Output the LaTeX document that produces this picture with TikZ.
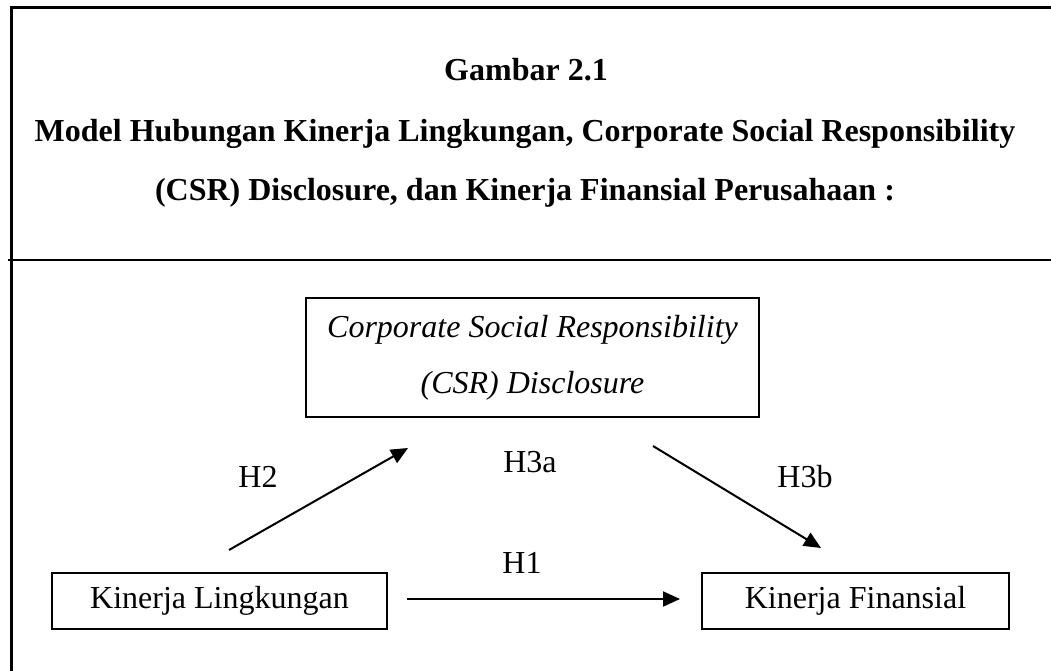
\documentclass[tikz,border=0pt]{standalone}
\usepackage{fontspec}
\setmainfont{Liberation Serif}
\usetikzlibrary{arrows.meta}
\begin{document}
\begin{tikzpicture}[x=1pt,y=-1pt,
  frame/.style={line width=3pt},
  varbox/.style={draw,line width=2pt,inner sep=0pt,align=center},
  link/.style={line width=2pt,-{Triangle[length=17pt,width=15pt]}},
  hyp/.style={font=\fontsize{32}{38}\selectfont},
  titletext/.style={font=\fontsize{32}{38}\selectfont\bfseries}]
\useasboundingbox (0,0) rectangle (1051,671);
% outer frame and divider under the caption
\draw[frame] (11,680) -- (11,7.5) -- (1060,7.5);
\draw[line width=2.2pt] (8,260) -- (1060,260);
% caption
\node[titletext] (t1) at (526,70) {Gambar 2.1};
\node[titletext] (t2) at (525,134) {Model Hubungan Kinerja Lingkungan, Corporate Social Responsibility};
\node[titletext] (t3) at (525,193) {(CSR) Disclosure, dan Kinerja Finansial Perusahaan :};
% variables
\node[varbox,minimum width=453pt,minimum height=119pt,font=\fontsize{32}{56}\selectfont\itshape] (csr) at (532.5,357.5)
  {Corporate Social Responsibility\\(CSR) Disclosure};
\node[varbox,minimum width=335pt,minimum height=56pt,font=\fontsize{32}{38}\selectfont] (kl) at (219.5,601) {Kinerja Lingkungan};
\node[varbox,minimum width=307pt,minimum height=56pt,font=\fontsize{32}{38}\selectfont] (kf) at (855.5,601) {Kinerja Finansial};
% arrow end points
\coordinate (h2s) at (229,550);
\coordinate (h2e) at (408,448);
\coordinate (h3s) at (653,446);
\coordinate (h3e) at (821,548);
\coordinate (h1s) at (407,599);
\coordinate (h1e) at (680,599);
\draw[link] (h2s) -- (h2e);
\draw[link] (h3s) -- (h3e);
\draw[link] (h1s) -- (h1e);
% hypothesis labels
\node[hyp] (lh2) at (258,477) {H2};
\node[hyp] (lh3a) at (530,462) {H3a};
\node[hyp] (lh3b) at (805,477) {H3b};
\node[hyp] (lh1) at (522,563) {H1};
\end{tikzpicture}
\end{document}
